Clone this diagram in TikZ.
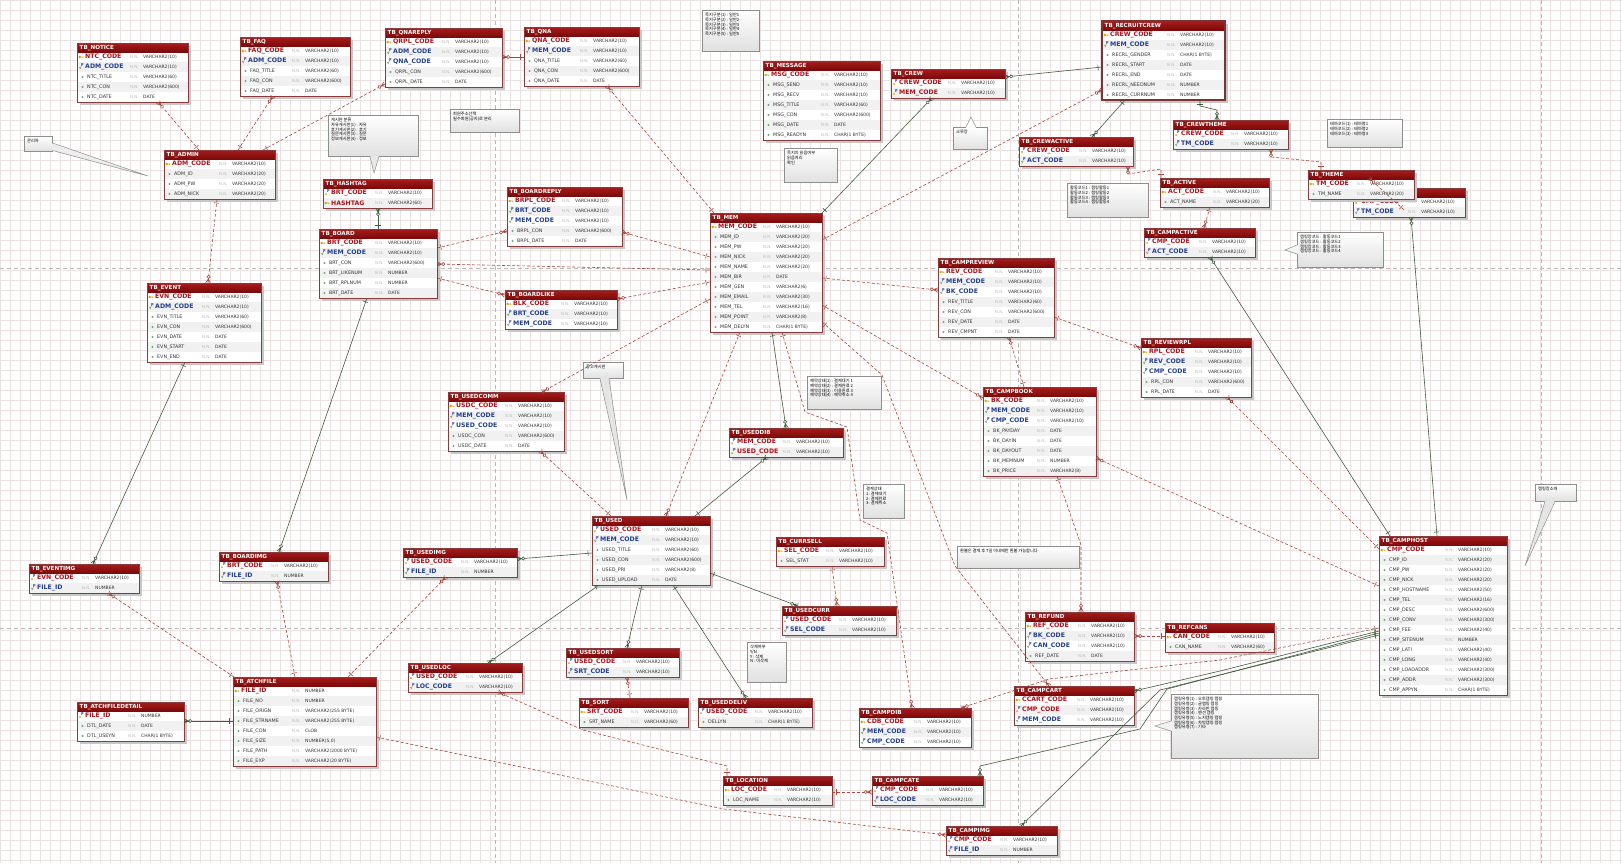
\documentclass[tikz,border=0pt]{standalone}
\usepackage{fontspec}
\setmainfont{DejaVu Sans}
\newfontfamily\krfont{Noto Sans CJK KR}
\usetikzlibrary{decorations.markings}

\definecolor{hdrA}{HTML}{A81C1C}
\definecolor{hdrB}{HTML}{7C0A0A}
\definecolor{tbord}{HTML}{8A3C3C}
\definecolor{recbd}{HTML}{7A3434}
\definecolor{pkc}{HTML}{B0101A}
\definecolor{fkc}{HTML}{233E8C}
\definecolor{colc}{HTML}{333333}
\definecolor{nnc}{HTML}{BBBBBB}
\definecolor{keyc}{HTML}{D8A300}
\definecolor{attc}{HTML}{74A874}
\definecolor{rowalt}{HTML}{F1F1F1}
\definecolor{relc}{HTML}{A4473E}
\definecolor{idrc}{HTML}{3E5C3E}
\definecolor{gridc}{HTML}{EBE1E1}
\definecolor{pagec}{HTML}{B8B8B8}
\definecolor{notebd}{HTML}{8E8E8E}

\tikzset{
  tblbox/.style={anchor=north west, fill=white, inner sep=0pt, outer sep=0pt},
  tbltitle/.style={anchor=west, inner sep=0pt, text=white, font={\bfseries\fontsize{5.6}{6}\selectfont}},
  pkname/.style={anchor=west, inner sep=0pt, text=pkc, font={\bfseries\fontsize{6.2}{7}\selectfont}},
  fkname/.style={anchor=west, inner sep=0pt, text=fkc, font={\bfseries\fontsize{6.2}{7}\selectfont}},
  colname/.style={anchor=west, inner sep=0pt, text=colc, font={\fontsize{4.8}{5}\selectfont}},
  nncol/.style={anchor=west, inner sep=0pt, text=nnc, font={\fontsize{4}{4.5}\selectfont}},
  typecol/.style={anchor=west, inner sep=0pt, text=colc, font={\fontsize{4.5}{5}\selectfont}},
  ficon/.style={inner sep=0pt, text=fkc, font={\bfseries\fontsize{4}{4}\selectfont}},
  crow/.style={postaction={decorate, decoration={markings,
      mark=at position 4pt with {\draw[solid] (0pt,-2.6pt) -- (0pt,2.6pt);},
      mark=at position -0.2pt with {\draw[solid] (0.2pt,0pt) -- (-4.2pt,0pt) (0.2pt,2.3pt) -- (-4.2pt,0pt) -- (0.2pt,-2.3pt);
        \draw[solid, fill=white] (-6pt,0pt) circle (1.6pt);}}}},
  rel/.style={draw=relc, relc, line width=0.6pt, dash pattern=on 3pt off 2pt, crow},
  idr/.style={draw=idrc, idrc, line width=0.6pt, crow},
  notebox/.style={draw=notebd, line width=0.5pt, top color=white, bottom color=black!12, anchor=north west, inner sep=0pt},
  notetext/.style={anchor=north west, inner sep=0pt, align=left, font={\fontsize{4.2}{4.7}\selectfont\krfont}},
  notetip/.style={fill=black!7, draw=notebd, line width=0.5pt},
  pageline/.style={pagec, line width=0.6pt, dash pattern=on 4pt off 3pt},
}

% column icon: 0 attribute, 1 primary key, 2 foreign key, 3 primary + foreign key
\newcommand\ericon[2]{%
  \ifcase#1
    \fill[attc] (5.5,#2) circle (1.1);
  \or
    \draw[keyc, line width=0.7pt] (2.8,#2) circle (0.9) (3.7,#2) -- (6.4,#2) (5.7,#2) -- (5.7,#2+1.2);
  \or
    \draw[attc, line width=0.6pt] (2.4,#2+0.2) -- (3.3,#2+1.6) -- (4.2,#2-0.8);
    \node[ficon] at (5.4,#2-1.6) {F};
  \or
    \fill[keyc] (3,#2+1) circle (1);
    \node[ficon] at (5.4,#2-1.6) {F};
  \fi}

% entity table: name, x, y, width, rows, N.N. column, title, rows list
\newcommand\ertable[8]{%
  \begin{scope}[shift={(#2,#3)}]
    \fill[black!22] (2.5,2.5) rectangle ({#4+2.5},{9+10*#5+2.5});
    \node[tblbox, minimum width=#4pt, minimum height={9pt+10pt*#5}] (#1) at (0,0) {};
    \shade[top color=hdrA, bottom color=hdrB] (0,0) rectangle (#4,9);
    \node[tbltitle] at (2.5,4.7) {#7};
    \foreach \k/\nm/\ty [count=\i] in {#8} {
      \pgfmathsetmacro\yc{9+10*\i-5}
      \ifodd\i\else \fill[rowalt] (0.5,\yc-5) rectangle (#4-0.5,\yc+5); \fi
      \ericon{\k}{\yc}
      \ifcase\k
        \node[colname] at (10,\yc) {\nm};
      \or \node[pkname] at (8,\yc) {\nm};
      \or \node[fkname] at (8,\yc) {\nm};
      \or \node[pkname] at (8,\yc) {\nm};
      \fi
      \node[nncol] at (#6,\yc) {N.N.};
      \node[typecol] at (#6+13,\yc) {\ty};
    }
    \draw[tbord, line width=0.8pt] (0,0) rectangle (#4,{9+10*#5});
  \end{scope}}

% note box: name, x, y, width, height, text
\newcommand\ernote[6]{%
  \node[notebox, minimum width=#4pt, minimum height=#5pt] (#1) at (#2,#3) {};
  \node[notetext] at ([xshift=3pt,yshift=-3pt]#1.north west) {#6};}

\begin{document}
\catcode`\_=12
\begin{tikzpicture}[x=1pt, y=-1pt]
\useasboundingbox (0,0) rectangle (1622,863);
\fill[white] (0,0) rectangle (1622,863);
\draw[gridc, line width=0.35pt, step=10pt] (0,863) grid (1622,0);
\foreach \px in {495,1018,1541} \draw[pageline] (\px,0) -- (\px,863);
\foreach \py in {268,628} \draw[pageline] (0,\py) -- (1622,\py);

% ---------- notes ----------
\ernote{nadm}{24}{136}{28}{15}{관리자}
\ernote{nhash}{328}{115}{90}{41}{게시판 분류\\자유게시판(1) : 자유\\후기게시판(2) : 후기\\질문게시판(3) : 질문\\정보게시판(4) : 정보}
\ernote{nmember}{450}{109}{69}{23}{회원주소선택\\필수회원(공지)로 분리}
\ernote{nmsgtop}{702}{10}{57}{41}{쪽지구분(1) : 일반1\\쪽지구분(2) : 일반2\\쪽지구분(3) : 일반3\\쪽지구분(4) : 일반4\\쪽지구분(5) : 일반5}
\ernote{nmsg}{784}{148}{53}{34}{쪽지의 읽음여부\\읽음처리\\확인}
\ernote{ncrew}{953}{127}{34}{22}{크루장}
\ernote{nact}{1067}{183}{81}{34}{활동코드1 : 캠핑활동1\\활동코드2 : 캠핑활동2\\활동코드3 : 캠핑활동3\\활동코드4 : 캠핑활동4}
\ernote{ntheme}{1327}{119}{75}{28}{테마코드(1) : 테마명1\\테마코드(2) : 테마명2\\테마코드(3) : 테마명3}
\ernote{ncampact}{1297}{232}{86}{35}{캠핑장코드 : 활동코드1\\캠핑장코드 : 활동코드2\\캠핑장코드 : 활동코드3\\캠핑장코드 : 활동코드4}
\ernote{nbook}{807}{376}{74}{33}{예약상태(1) : 결제대기 1\\예약상태(2) : 결제완료 2\\예약상태(3) : 이용완료 3\\예약상태(4) : 예약취소 4}
\ernote{npay}{863}{484}{41}{34}{결제상태\\1: 결제대기\\2: 결제완료\\3: 결제취소}
\ernote{nrefund}{957}{546}{122}{22}{환불은 결제 후 7일 이내에만 환불 가능합니다}
\ernote{ndeliv}{747}{642}{39}{40}{삭제여부\\Y/N\\Y : 삭제\\N : 미삭제}
\ernote{nhost}{1171}{694}{147}{64}{캠핑유형(1) : 오토캠핑 캠핑\\캠핑유형(2) : 글램핑 캠핑\\캠핑유형(3) : 카라반 캠핑\\캠핑유형(4) : 펜션 캠핑\\캠핑유형(5) : 노지캠핑 캠핑\\캠핑유형(6) : 차박캠핑 캠핑\\캠핑유형(7) : 기타}
\ernote{ncamp}{1535}{484}{41}{17}{캠핑장소개}
\ernote{nusedc}{583}{362}{40}{16}{중고게시판}

% callout pointers of the notes
\coordinate (tipadm) at (148,176);
\coordinate (tiphash) at (374,173);
\coordinate (tipcrew) at (971,117);
\coordinate (tipcampact) at (1285,250);
\coordinate (tipusedc) at (627,500);
\coordinate (tiphost) at (1155,726);
\coordinate (tipcamp) at (1525,566);
\fill[black!7] ([xshift=-1pt,yshift=-7pt]nadm.north east) -- (tipadm) -- ([xshift=-1pt,yshift=1pt]nadm.south east) -- cycle;
\draw[notebd, line width=0.5pt] ([yshift=-7pt]nadm.north east) -- (tipadm) -- ([yshift=1pt]nadm.south east);
\fill[black!9] ([xshift=42pt,yshift=1pt]nhash.south west) -- (tiphash) -- ([xshift=51pt,yshift=1pt]nhash.south west) -- cycle;
\draw[notebd, line width=0.5pt] ([xshift=42pt]nhash.south west) -- (tiphash) -- ([xshift=51pt]nhash.south west);
\fill[white] ([xshift=13pt,yshift=-1pt]ncrew.north west) -- (tipcrew) -- ([xshift=23pt,yshift=-1pt]ncrew.north west) -- cycle;
\draw[notebd, line width=0.5pt] ([xshift=13pt]ncrew.north west) -- (tipcrew) -- ([xshift=23pt]ncrew.north west);
\fill[black!4] ([xshift=1pt,yshift=-13pt]ncampact.north west) -- (tipcampact) -- ([xshift=1pt,yshift=-22pt]ncampact.north west) -- cycle;
\draw[notebd, line width=0.5pt] ([yshift=-13pt]ncampact.north west) -- (tipcampact) -- ([yshift=-22pt]ncampact.north west);
\fill[black!10] ([xshift=17pt,yshift=1pt]nusedc.south west) -- (tipusedc) -- ([xshift=26pt,yshift=1pt]nusedc.south west) -- cycle;
\draw[notebd, line width=0.5pt] ([xshift=17pt]nusedc.south west) -- (tipusedc) -- ([xshift=26pt]nusedc.south west);
\fill[black!5] ([xshift=1pt,yshift=-27pt]nhost.north west) -- (tiphost) -- ([xshift=1pt,yshift=-37pt]nhost.north west) -- cycle;
\draw[notebd, line width=0.5pt] ([yshift=-27pt]nhost.north west) -- (tiphost) -- ([yshift=-37pt]nhost.north west);
\fill[black!10] ([xshift=10pt,yshift=1pt]ncamp.south west) -- (tipcamp) -- ([xshift=20pt,yshift=1pt]ncamp.south west) -- cycle;
\draw[notebd, line width=0.5pt] ([xshift=10pt]ncamp.south west) -- (tipcamp) -- ([xshift=20pt]ncamp.south west);

% ---------- tables ----------
\ertable{notice}{77}{43}{111}{5}{53}{TB_NOTICE}{1/NTC_CODE/VARCHAR2(10),2/ADM_CODE/VARCHAR2(10),0/NTC_TITLE/VARCHAR2(60),0/NTC_CON/VARCHAR2(600),0/NTC_DATE/DATE}
\ertable{faq}{240}{37}{110}{5}{52}{TB_FAQ}{1/FAQ_CODE/VARCHAR2(10),2/ADM_CODE/VARCHAR2(10),0/FAQ_TITLE/VARCHAR2(60),0/FAQ_CON/VARCHAR2(600),0/FAQ_DATE/DATE}
\ertable{qnareply}{385}{28}{117}{5}{57}{TB_QNAREPLY}{1/QRPL_CODE/VARCHAR2(10),2/ADM_CODE/VARCHAR2(10),2/QNA_CODE/VARCHAR2(10),0/QRPL_CON/VARCHAR2(600),0/QRPL_DATE/DATE}
\ertable{qna}{524}{27}{115}{5}{56}{TB_QNA}{1/QNA_CODE/VARCHAR2(10),2/MEM_CODE/VARCHAR2(10),0/QNA_TITLE/VARCHAR2(60),0/QNA_CON/VARCHAR2(600),0/QNA_DATE/DATE}
\ertable{message}{763}{61}{117}{7}{58}{TB_MESSAGE}{1/MSG_CODE/VARCHAR2(10),0/MSG_SEND/VARCHAR2(10),0/MSG_RECV/VARCHAR2(10),0/MSG_TITLE/VARCHAR2(60),0/MSG_CON/VARCHAR2(600),0/MSG_DATE/DATE,0/MSG_READYN/CHAR(1 BYTE)}
\ertable{crew}{891}{69}{114}{2}{57}{TB_CREW}{3/CREW_CODE/VARCHAR2(10),3/MEM_CODE/VARCHAR2(10)}
\ertable{recruit}{1102}{21}{123}{7}{65}{TB_RECRUITCREW}{1/CREW_CODE/VARCHAR2(10),2/MEM_CODE/VARCHAR2(10),0/RECRL_GENDER/CHAR(1 BYTE),0/RECRL_START/DATE,0/RECRL_END/DATE,0/RECRL_NEEDNUM/NUMBER,0/RECRL_CURRNUM/NUMBER}
\draw[recbd, line width=2.2pt] (recruit.north west) rectangle (recruit.south east);
\ertable{crewactive}{1019}{137}{114}{2}{60}{TB_CREWACTIVE}{3/CREW_CODE/VARCHAR2(10),2/ACT_CODE/VARCHAR2(10)}
\ertable{crewtheme}{1173}{120}{115}{2}{58}{TB_CREWTHEME}{3/CREW_CODE/VARCHAR2(10),2/TM_CODE/VARCHAR2(10)}
\ertable{active}{1160}{178}{109}{2}{53}{TB_ACTIVE}{1/ACT_CODE/VARCHAR2(10),0/ACT_NAME/VARCHAR2(20)}
\ertable{campactive}{1144}{228}{111}{2}{55}{TB_CAMPACTIVE}{3/CMP_CODE/VARCHAR2(10),2/ACT_CODE/VARCHAR2(10)}
\ertable{camptheme}{1353}{188}{112}{2}{55}{TB_CAMPTHEME}{3/CMP_CODE/VARCHAR2(10),2/TM_CODE/VARCHAR2(10)}
\ertable{theme}{1308}{170}{106}{2}{49}{TB_THEME}{1/TM_CODE/VARCHAR2(10),0/TM_NAME/VARCHAR2(20)}
\ertable{admin}{164}{150}{111}{4}{55}{TB_ADMIN}{1/ADM_CODE/VARCHAR2(10),0/ADM_ID/VARCHAR2(20),0/ADM_PW/VARCHAR2(20),0/ADM_NICK/VARCHAR2(20)}
\ertable{hashtag}{323}{179}{109}{2}{52}{TB_HASHTAG}{3/BRT_CODE/VARCHAR2(10),1/HASHTAG/VARCHAR2(60)}
\ertable{board}{319}{229}{118}{6}{56}{TB_BOARD}{1/BRT_CODE/VARCHAR2(10),2/MEM_CODE/VARCHAR2(10),0/BRT_CON/VARCHAR2(600),0/BRT_LIKENUM/NUMBER,0/BRT_RPLNUM/NUMBER,0/BRT_DATE/DATE}
\ertable{event}{147}{283}{114}{7}{55}{TB_EVENT}{1/EVN_CODE/VARCHAR2(10),2/ADM_CODE/VARCHAR2(10),0/EVN_TITLE/VARCHAR2(60),0/EVN_CON/VARCHAR2(600),0/EVN_DATE/DATE,0/EVN_START/DATE,0/EVN_END/DATE}
\ertable{boardreply}{507}{187}{115}{5}{55}{TB_BOARDREPLY}{1/BRPL_CODE/VARCHAR2(10),2/BRT_CODE/VARCHAR2(10),2/MEM_CODE/VARCHAR2(10),0/BRPL_CON/VARCHAR2(600),0/BRPL_DATE/DATE}
\ertable{boardlike}{505}{290}{112}{3}{56}{TB_BOARDLIKE}{1/BLK_CODE/VARCHAR2(10),2/BRT_CODE/VARCHAR2(10),2/MEM_CODE/VARCHAR2(10)}
\ertable{mem}{710}{213}{112}{11}{53}{TB_MEM}{1/MEM_CODE/VARCHAR2(10),0/MEM_ID/VARCHAR2(20),0/MEM_PW/VARCHAR2(20),0/MEM_NICK/VARCHAR2(20),0/MEM_NAME/VARCHAR2(20),0/MEM_BIR/DATE,0/MEM_GEN/VARCHAR2(6),0/MEM_EMAIL/VARCHAR2(30),0/MEM_TEL/VARCHAR2(16),0/MEM_POINT/VARCHAR2(8),0/MEM_DELYN/CHAR(1 BYTE)}
\ertable{campreview}{938}{258}{116}{7}{57}{TB_CAMPREVIEW}{1/REV_CODE/VARCHAR2(10),2/MEM_CODE/VARCHAR2(10),2/BK_CODE/VARCHAR2(10),0/REV_TITLE/VARCHAR2(60),0/REV_CON/VARCHAR2(600),0/REV_DATE/DATE,0/REV_CMPNT/DATE}
\ertable{reviewrpl}{1141}{338}{110}{5}{54}{TB_REVIEWRPL}{1/RPL_CODE/VARCHAR2(10),2/REV_CODE/VARCHAR2(10),2/CMP_CODE/VARCHAR2(10),0/RPL_CON/VARCHAR2(600),0/RPL_DATE/DATE}
\ertable{campbook}{983}{387}{113}{8}{54}{TB_CAMPBOOK}{1/BK_CODE/VARCHAR2(10),2/MEM_CODE/VARCHAR2(10),2/CMP_CODE/VARCHAR2(10),0/BK_PAYDAY/DATE,0/BK_DAYIN/DATE,0/BK_DAYOUT/DATE,0/BK_MEMNUM/NUMBER,0/BK_PRICE/VARCHAR2(8)}
\ertable{usedcomm}{448}{392}{116}{5}{57}{TB_USEDCOMM}{1/USDC_CODE/VARCHAR2(10),2/MEM_CODE/VARCHAR2(10),2/USED_CODE/VARCHAR2(10),0/USDC_CON/VARCHAR2(600),0/USDC_DATE/DATE}
\ertable{useddib}{729}{428}{114}{2}{54}{TB_USEDDIB}{3/MEM_CODE/VARCHAR2(10),3/USED_CODE/VARCHAR2(10)}
\ertable{used}{592}{516}{118}{6}{60}{TB_USED}{3/USED_CODE/VARCHAR2(10),2/MEM_CODE/VARCHAR2(10),0/USED_TITLE/VARCHAR2(60),0/USED_CON/VARCHAR2(600),0/USED_PRI/VARCHAR2(8),0/USED_UPLOAD/DATE}
\ertable{usedimg}{403}{548}{114}{2}{58}{TB_USEDIMG}{3/USED_CODE/VARCHAR2(10),2/FILE_ID/NUMBER}
\ertable{currsell}{776}{537}{108}{2}{50}{TB_CURRSELL}{1/SEL_CODE/VARCHAR2(10),0/SEL_STAT/VARCHAR2(10)}
\ertable{usedcurr}{782}{606}{114}{2}{57}{TB_USEDCURR}{3/USED_CODE/VARCHAR2(10),2/SEL_CODE/VARCHAR2(10)}
\ertable{usedloc}{408}{663}{114}{2}{58}{TB_USEDLOC}{3/USED_CODE/VARCHAR2(10),2/LOC_CODE/VARCHAR2(10)}
\ertable{usedsort}{566}{648}{113}{2}{57}{TB_USEDSORT}{3/USED_CODE/VARCHAR2(10),2/SRT_CODE/VARCHAR2(10)}
\ertable{sort}{579}{698}{109}{2}{52}{TB_SORT}{1/SRT_CODE/VARCHAR2(10),0/SRT_NAME/VARCHAR2(60)}
\ertable{useddeliv}{698}{698}{114}{2}{57}{TB_USEDDELIV}{3/USED_CODE/VARCHAR2(10),0/DELLYN/CHAR(1 BYTE)}
\ertable{location}{723}{776}{109}{2}{51}{TB_LOCATION}{1/LOC_CODE/VARCHAR2(10),0/LOC_NAME/VARCHAR2(10)}
\ertable{campdib}{859}{708}{112}{3}{55}{TB_CAMPDIB}{1/CDB_CODE/VARCHAR2(10),2/MEM_CODE/VARCHAR2(10),2/CMP_CODE/VARCHAR2(10)}
\ertable{campcate}{872}{776}{111}{2}{54}{TB_CAMPCATE}{3/CMP_CODE/VARCHAR2(10),2/LOC_CODE/VARCHAR2(10)}
\ertable{campimg}{946}{826}{111}{2}{54}{TB_CAMPIMG}{3/CMP_CODE/VARCHAR2(10),2/FILE_ID/NUMBER}
\ertable{campcart}{1014}{686}{120}{3}{63}{TB_CAMPCART}{1/CCART_CODE/VARCHAR2(10),3/CMP_CODE/VARCHAR2(10),2/MEM_CODE/VARCHAR2(10)}
\ertable{refund}{1025}{612}{109}{4}{53}{TB_REFUND}{1/REF_CODE/VARCHAR2(10),2/BK_CODE/VARCHAR2(10),2/CAN_CODE/VARCHAR2(10),0/REF_DATE/DATE}
\ertable{refcan}{1165}{623}{109}{2}{53}{TB_REFCANS}{1/CAN_CODE/VARCHAR2(10),0/CAN_NAME/VARCHAR2(60)}
\ertable{camphost}{1379}{536}{128}{15}{66}{TB_CAMPHOST}{1/CMP_CODE/VARCHAR2(10),0/CMP_ID/VARCHAR2(20),0/CMP_PW/VARCHAR2(20),0/CMP_NICK/VARCHAR2(20),0/CMP_HOSTNAME/VARCHAR2(50),0/CMP_TEL/VARCHAR2(16),0/CMP_DESC/VARCHAR2(600),0/CMP_CONV/VARCHAR2(300),0/CMP_FEE/VARCHAR2(40),0/CMP_SITENUM/NUMBER,0/CMP_LATI/VARCHAR2(40),0/CMP_LONG/VARCHAR2(40),0/CMP_LOADADDR/VARCHAR2(300),0/CMP_ADDR/VARCHAR2(300),0/CMP_APPYN/CHAR(1 BYTE)}
\ertable{atchfile}{233}{677}{143}{8}{59}{TB_ATCHFILE}{1/FILE_ID/NUMBER,0/FILE_NO/NUMBER,0/FILE_ORIGN/VARCHAR2(255 BYTE),0/FILE_STRNAME/VARCHAR2(255 BYTE),0/FILE_CON/CLOB,0/FILE_SIZE/{NUMBER(5,0)},0/FILE_PATH/VARCHAR2(2000 BYTE),0/FILE_EXP/VARCHAR2(20 BYTE)}
\ertable{atchdetail}{77}{702}{107}{3}{51}{TB_ATCHFILEDETAIL}{3/FILE_ID/NUMBER,0/DTL_DATE/DATE,0/DTL_USEYN/CHAR(1 BYTE)}
\ertable{eventimg}{29}{564}{110}{2}{53}{TB_EVENTIMG}{3/EVN_CODE/VARCHAR2(10),2/FILE_ID/NUMBER}
\ertable{boardimg}{219}{552}{109}{2}{52}{TB_BOARDIMG}{3/BRT_CODE/VARCHAR2(10),2/FILE_ID/NUMBER}

% ---------- relationships (parent end first, child end last) ----------
% administrator
\draw[rel] ([xshift=35pt]admin.north west) -- ([xshift=81pt]notice.south west);
\draw[rel] ([xshift=74pt]admin.north west) -- ([xshift=33pt]faq.south west);
\draw[rel] ([xshift=99pt]admin.north west) -- ([yshift=-56pt]qnareply.north west);
\draw[rel] ([xshift=53pt]admin.south west) -- ([xshift=61pt]event.north west);
\draw[rel, solid] ([yshift=-30pt]qna.north west) -- ([yshift=-29pt]qnareply.north east);
\draw[rel] ([xshift=4pt]mem.north west) -- ([xshift=83pt]qna.south west);
% board
\draw[idr] ([xshift=59pt]board.north west) -- ([xshift=55pt]hashtag.south west);
\draw[rel] ([yshift=-19pt]board.north east) -- ([yshift=-44pt]boardreply.north west);
\draw[rel] ([yshift=-49pt]board.north east) -- ([yshift=-5pt]boardlike.north west);
\draw[rel] ([yshift=-57pt]mem.north west) -- ([yshift=-35pt]board.north east);
\draw[rel] ([yshift=-44pt]mem.north west) -- ([yshift=-45pt]boardreply.north east);
\draw[rel] ([yshift=-69pt]mem.north west) -- ([yshift=-9pt]boardlike.north east);
\draw[rel] ([yshift=-86pt]mem.north west) -- ([xshift=94pt]usedcomm.north west);
\draw[idr] ([xshift=38pt]event.south west) -- ([xshift=64pt]eventimg.north west);
\draw[idr] ([xshift=48pt]board.south west) -- ([xshift=60pt]boardimg.north west);
% crew
\draw[idr] (mem.north east) -- ([xshift=41pt]crew.south west);
\draw[rel] ([yshift=-27pt]mem.north east) -- ([yshift=-69pt]recruit.north west);
\draw[idr] ([yshift=-46pt]recruit.north west) -- ([yshift=-8pt]crew.north east);
\draw[idr] ([xshift=23pt]recruit.south west) -- ([xshift=73pt]crewactive.north west);
\draw[idr] ([xshift=98pt]recruit.south west) -- ++(0,6) -- ([xshift=44pt,yshift=10pt]crewtheme.north west) -- ([xshift=44pt]crewtheme.north west);
\draw[rel] ([xshift=1pt]active.north west) -- ++(0,-9) -- ([xshift=109pt,yshift=-8pt]crewactive.south west) -- ([xshift=109pt]crewactive.south west);
\draw[rel] ([xshift=13pt]theme.north west) -- ++(0,-8) -- ([xshift=98pt,yshift=-8pt]crewtheme.south west) -- ([xshift=98pt]crewtheme.south west);
\draw[rel] ([xshift=50pt]active.south west) -- ([xshift=60pt]campactive.north west);
\draw[rel] ([xshift=51pt,yshift=-22pt]camptheme.north west) -- ([xshift=61pt,yshift=-8pt]theme.north west);
\draw[idr] ([xshift=58pt]camphost.north west) -- ([xshift=58pt]camptheme.south west);
\draw[idr] ([xshift=11pt]camphost.north west) -- ([xshift=66pt]campactive.south west);
% camping
\draw[rel] ([yshift=-65pt]mem.north east) -- ([yshift=-32pt]campreview.north west);
\draw[rel] ([yshift=-92pt]mem.north east) -- ([yshift=-11pt]campbook.north west);
\draw[rel] ([yshift=-109pt]mem.north east) -- (882,375) -- (955,566) -- ([xshift=35pt]campcart.north west);
\draw[rel] ([xshift=72pt]mem.south west) -- (805,412) -- (847,427) -- (860,520) -- (887,533) -- ([xshift=53pt]campdib.north west);
\draw[rel] ([yshift=-59pt]campreview.north east) -- ([yshift=-10pt]reviewrpl.north west);
\draw[rel] ([xshift=41pt]campbook.north west) -- ([xshift=71pt]campreview.south west);
\draw[rel] ([yshift=-13pt]camphost.north west) -- ([xshift=86pt]reviewrpl.south west);
\draw[rel] ([yshift=-50pt]camphost.north west) -- ([yshift=-71pt]campbook.north east);
\draw[rel] ([xshift=74pt]campbook.south west) -- (1081,545) -- ([xshift=56pt]refund.north west);
\draw[rel] ([yshift=-13pt]refcan.north west) -- ([yshift=-24pt]refund.north east);
\draw[rel] ([yshift=-92pt]camphost.north west) -- (1220,660) -- (1049,679) -- ([xshift=102pt]campdib.north west);
\draw[idr] ([yshift=-95pt]camphost.north west) -- (1220,671) -- ([yshift=-5pt]campcart.north east);
\draw[idr] ([yshift=-97pt]camphost.north west) -- (1167,689) -- (1140,729) -- ([xshift=108pt,yshift=10pt]campcate.north west) -- ([xshift=108pt]campcate.north west);
\draw[idr] ([yshift=-99pt]camphost.north west) -- (1160,690) -- ([xshift=75pt]campimg.north west);
\draw[rel] ([yshift=-16pt]location.north east) -- ([yshift=-16pt]campcate.north west);
% used goods
\draw[idr] ([xshift=62pt]mem.south west) -- ([xshift=57pt]useddib.north west);
\draw[rel] ([xshift=30pt]mem.south west) -- ([xshift=74pt]used.north west);
\draw[rel] ([xshift=19pt]used.north west) -- ([xshift=92pt]usedcomm.south west);
\draw[idr] ([xshift=103pt]used.north west) -- ([xshift=38pt]useddib.south west);
\draw[idr] ([yshift=-37pt]used.north west) -- ([yshift=-11pt]usedimg.north east);
\draw[idr] ([yshift=-57pt]used.north east) -- ([xshift=16pt]usedcurr.north west);
\draw[rel] ([xshift=56pt]currsell.south west) -- ([xshift=55pt]usedcurr.north west);
\draw[idr] ([xshift=7pt]used.south west) -- ([xshift=80pt]usedloc.north west);
\draw[idr] ([xshift=50pt]used.south west) -- ([xshift=61pt]usedsort.north west);
\draw[idr] ([xshift=81pt]used.south west) -- ([xshift=48pt]useddeliv.north west);
\draw[rel] ([xshift=51pt]sort.north west) -- ([xshift=61pt]usedsort.south west);
\draw[rel] ([xshift=4pt]location.north west) -- ++(0,-10) -- (583,730) -- ([xshift=90pt]usedloc.south west);
% attached files
\draw[rel] ([yshift=-60pt]atchfile.north east) -- (724,809) -- ([yshift=-9pt]campimg.north west);
\draw[rel] ([xshift=1pt]atchfile.north west) -- ([xshift=79pt]eventimg.south west);
\draw[rel] ([xshift=62pt]atchfile.north west) -- ([xshift=58pt]boardimg.south west);
\draw[rel] ([xshift=115pt]atchfile.north west) -- ([xshift=43pt]usedimg.south west);
\draw[idr] ([yshift=-44pt]atchfile.north west) -- ([yshift=-19pt]atchdetail.north east);
\end{tikzpicture}
\end{document}
